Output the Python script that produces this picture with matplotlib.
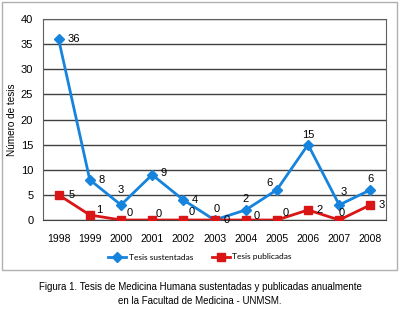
import matplotlib
matplotlib.use("Agg")
import matplotlib.pyplot as plt
from matplotlib.patches import Rectangle

plt.rcParams['font.family'] = ['Liberation Sans Narrow', 'Liberation Sans', 'DejaVu Sans']

years = ['1998', '1999', '2000', '2001', '2002', '2003', '2004', '2005', '2006', '2007', '2008']
sustentadas = [36, 8, 3, 9, 4, 0, 2, 6, 15, 3, 6]
publicadas = [5, 1, 0, 0, 0, 0, 0, 0, 2, 0, 3]
yticks = [0, 5, 10, 15, 20, 25, 30, 35, 40]

blue = '#1683DC'
red = '#D91515'

fig = plt.figure(figsize=(4.0, 3.1), dpi=100)
ax = fig.add_axes([43/400, 1 - 220/310, 343/400, 201/310])

x = list(range(len(years)))
ax.plot(x, sustentadas, color=blue, lw=2, marker='D', ms=5, label='Tesis sustentadas', zorder=3)
ax.plot(x, publicadas, color=red, lw=2, marker='s', ms=5.5, label='Tesis publicadas', zorder=3)

ax.set_xlim(-0.5, len(years) - 0.5)
ax.set_ylim(0, 40)
ax.set_yticks(yticks)
ax.set_xticks(x)
ax.set_xticklabels(years)
ax.tick_params(axis='y', length=0, labelsize=8, pad=7)
ax.tick_params(axis='x', length=0, labelsize=7.5, pad=10)
ax.yaxis.grid(True, color='#404040', lw=1)
ax.set_axisbelow(True)
for s in ['top', 'left', 'right']:
    ax.spines[s].set_color('#606060')
ax.spines['bottom'].set_color('#404040')
ax.set_ylabel('Número de tesis', fontsize=7.2, labelpad=3)

# data labels (offsets in points)
s_off = [(11, 0), (8.6, 0), (0, 11), (8, 1), (8.6, 0), (1.5, 8), (0, 8), (-5, 5), (0, 7), (3, 9.5), (0, 7.5)]
p_off = [(9.5, 0), (6.5, 3.5), (6.5, 5), (5, 4.5), (6, 6), (9, 0), (8, 3), (6, 5), (8.5, 0), (2, 5), (8, 0)]
for i, v in enumerate(sustentadas):
    ax.annotate(str(v), (i, v), xytext=s_off[i], textcoords='offset points',
                ha='center', va='center', fontsize=8)
for i, v in enumerate(publicadas):
    ax.annotate(str(v), (i, v), xytext=p_off[i], textcoords='offset points',
                ha='center', va='center', fontsize=8)

leg = fig.legend(loc='center', bbox_to_anchor=(0.5, 1 - 257/310), ncol=2, frameon=False,
                 handlelength=2.2, columnspacing=2.2, handletextpad=0.3,
                 prop={'family': ['Lato', 'DejaVu Sans'], 'size': 6})

fig.patches.append(Rectangle((2/400, 1 - 270/310), 395/400, 268/310, transform=fig.transFigure,
                             fill=False, edgecolor='#B0B0B0', lw=1))

fig.text(0.5, 1 - 287/310, 'Figura 1. Tesis de Medicina Humana sustentadas y publicadas anualmente',
         ha='center', va='center', fontsize=7)
fig.text(0.5, 1 - 301/310, 'en la Facultad de Medicina - UNMSM.',
         ha='center', va='center', fontsize=7)

fig.savefig('out.png', dpi=100)
